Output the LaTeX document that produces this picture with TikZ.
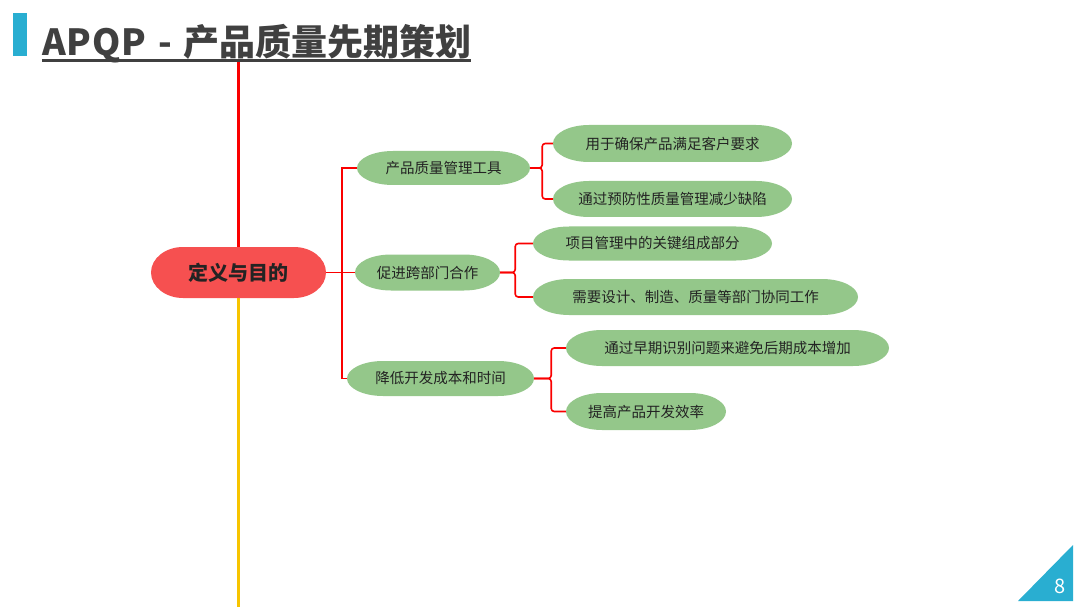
\documentclass[tikz,border=0pt]{standalone}
\usepackage{fontspec}
\setmainfont{Noto Sans CJK SC}
\usetikzlibrary{calc}
\definecolor{pillgreen}{RGB}{148,199,138}
\definecolor{pillred}{RGB}{246,80,80}
\definecolor{linered}{RGB}{250,0,0}
\definecolor{lineyellow}{RGB}{247,196,0}
\definecolor{barblue}{RGB}{41,174,209}
\definecolor{textdark}{RGB}{35,35,35}
\definecolor{titlegray}{RGB}{64,64,64}
\begin{document}
\begin{tikzpicture}[x=1pt,y=-1pt,
  pill/.style 2 args={fill=white, inner sep=0pt,
    path picture={\fill[#2] let \p1=(path picture bounding box.south west),
        \p2=(path picture bounding box.north east), \n1={(\y2-\y1)/2} in
      (\x1+#1pt,\y2) -- (\x2-#1pt,\y2)
      arc[start angle=90,end angle=-90,x radius=#1pt,y radius=\n1]
      -- (\x1+#1pt,\y1)
      arc[start angle=270,end angle=90,x radius=#1pt,y radius=\n1] -- cycle;}},
  greenpill/.style={pill={36}{pillgreen}, text=textdark,
    font=\fontsize{14.5}{16}\selectfont},
  redpill/.style={pill={32}{pillred}, text=textdark,
    font=\fontsize{20}{22}\selectfont\bfseries},
  conn/.style={linered, line width=1.6pt},
  trunk/.style={line width=3pt}
]
\useasboundingbox (0,0) rectangle (1080,607);

% title
\fill[barblue] (12.5,13) rectangle (26.5,56);
\node[anchor=base west, inner sep=0pt, text=titlegray,
  font=\fontsize{36}{40}\selectfont\bfseries] (title) at (42,56)
  {{\addfontfeatures{LetterSpace=2}APQP}\hspace{4pt} - \hspace{3pt}产品质量先期策划};
\draw[titlegray, line width=2.5pt] ($(title.base west)+(0,4.5)$) -- ($(title.base east)+(0,4.5)$);

% central node
\node[redpill, minimum width=175pt, minimum height=51pt] (def) at (238.5,272.5) {定义与目的};
\coordinate (vtop) at (238.5,62);
\coordinate (vbot) at (238.5,607);
\draw[trunk, linered] (vtop) -- (def.north);
\draw[trunk, lineyellow] (def.south) -- (vbot);

% children
\node[greenpill, minimum width=173pt, minimum height=34pt] (c1) at (443.5,168) {产品质量管理工具};
\node[greenpill, minimum width=145pt, minimum height=36pt] (c2) at (427.5,272.5) {促进跨部门合作};
\node[greenpill, minimum width=187pt, minimum height=35pt] (c3) at (440.5,378.5) {降低开发成本和时间};

% grandchildren
\node[greenpill, minimum width=239pt, minimum height=37pt] (g1a) at (672.5,143.5) {用于确保产品满足客户要求};
\node[greenpill, minimum width=239pt, minimum height=36pt] (g1b) at (672.5,199) {通过预防性质量管理减少缺陷};
\node[greenpill, minimum width=239pt, minimum height=34pt] (g2a) at (652.5,243.5) {项目管理中的关键组成部分};
\node[greenpill, minimum width=325pt, minimum height=36pt] (g2b) at (695.5,297) {需要设计、制造、质量等部门协同工作};
\node[greenpill, minimum width=323pt, minimum height=36pt] (g3a) at (727.5,348) {通过早期识别问题来避免后期成本增加};
\node[greenpill, minimum width=160pt, minimum height=37pt] (g3b) at (646,411.5) {提高产品开发效率};

% connectors
\draw[conn] (def.east) -- ++(16,0) |- (c1.west);
\draw[conn] (def.east) -- (c2.west);
\draw[conn] (def.east) -- ++(16,0) |- (c3.west);

\draw[conn, rounded corners=3pt] (c1.east) -- ++(12,0) |- (g1a.west);
\draw[conn, rounded corners=3pt] (c1.east) -- ++(12,0) |- (g1b.west);
\draw[conn, rounded corners=3pt] (c2.east) -- ++(15,0) |- (g2a.west);
\draw[conn, rounded corners=3pt] (c2.east) -- ++(15,0) |- (g2b.west);
\draw[conn, rounded corners=3pt] (c3.east) -- ++(17,0) |- (g3a.west);
\draw[conn, rounded corners=3pt] (c3.east) -- ++(17,0) |- (g3b.west);

% page number
\fill[barblue] (1018,601) -- (1073,545) -- (1073,601) -- cycle;
\node[text=white, font=\fontsize{20}{22}\selectfont, inner sep=0pt] (pg) at (1060,586) {8};
\end{tikzpicture}
\end{document}
